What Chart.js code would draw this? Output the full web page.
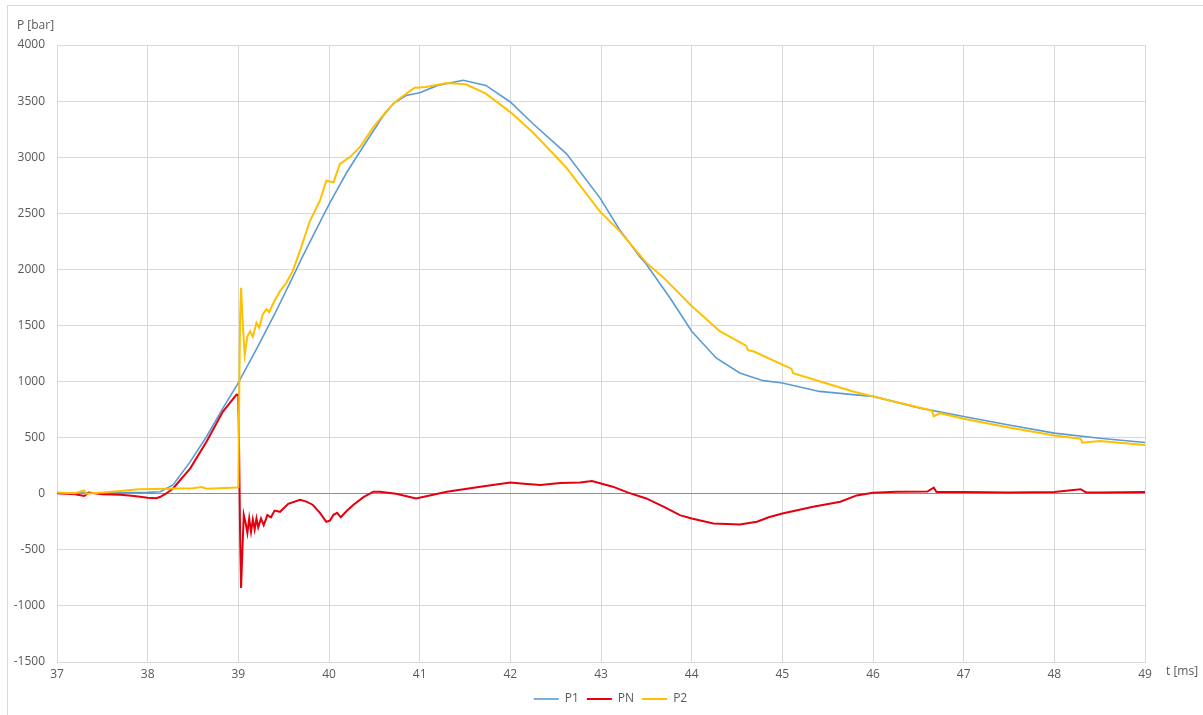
<!DOCTYPE html>
<html>
<head>
<meta charset="utf-8">
<script src="https://cdn.jsdelivr.net/npm/chart.js@4.4.0/dist/chart.umd.min.js"></script>
<style>
  html, body { margin: 0; padding: 0; background: #fff; overflow: hidden; }
  #frame { position: absolute; left: 7px; top: 5px; width: 1300px; height: 800px; border: 1px solid #d9d9d9; }
  #pressureChart { position: absolute; left: 0; top: 0; }
</style>
</head>
<body>
<div id="frame"></div>
<canvas id="pressureChart" width="1203" height="715"></canvas>
<script>
// time axis ticks (ms) and pressure ticks (bar)
const xTicks = [37, 38, 39, 40, 41, 42, 43, 44, 45, 46, 47, 48, 49];
const yTicks = [-1500, -1000, -500, 0, 500, 1000, 1500, 2000, 2500, 3000, 3500, 4000];

// P1
const p1Time = [37.0, 37.5, 38.0, 38.14, 38.28, 38.47, 38.65, 38.83, 38.99, 39.2, 39.4, 39.6, 39.7, 39.85,
  40.0, 40.2, 40.42, 40.6, 40.71, 40.85, 41.0, 41.2, 41.48, 41.73, 42.0, 42.25, 42.62, 42.99, 43.2, 43.43,
  43.5, 43.76, 44.0, 44.27, 44.53, 44.79, 45.0, 45.41, 45.78, 46.0, 46.52, 47.0, 47.5, 48.0, 48.5, 49.0];
const p1Values = [5, 8, 12, 18, 78, 286, 510, 763, 975, 1290, 1600, 1930, 2100, 2340,
  2580, 2870, 3149, 3370, 3477, 3550, 3575, 3640, 3685, 3640, 3492, 3298, 3030, 2635, 2360, 2110,
  2045, 1747, 1449, 1210, 1076, 1008, 987, 912, 883, 868, 763, 689, 612, 540, 495, 456];

// PN
const pnTime = [37.0, 37.2, 37.3, 37.35, 37.5, 37.7, 37.85, 38.0, 38.1, 38.14, 38.2, 38.28, 38.47, 38.65,
  38.83, 38.98, 39.0, 39.01, 39.02, 39.03, 39.045, 39.06, 39.08, 39.1, 39.12, 39.14, 39.16, 39.18, 39.2,
  39.22, 39.25, 39.28, 39.32, 39.36, 39.4, 39.46, 39.55, 39.68, 39.75, 39.82, 39.9, 39.97, 40.01, 40.05,
  40.09, 40.13, 40.2, 40.27, 40.38, 40.49, 40.56, 40.74, 40.96, 41.3, 41.67, 42.0, 42.15, 42.33, 42.55,
  42.77, 42.9, 43.13, 43.3, 43.5, 43.7, 43.87, 44.0, 44.24, 44.53, 44.72, 44.85, 45.0, 45.34, 45.64,
  45.82, 46.0, 46.26, 46.6, 46.67, 46.7, 47.0, 47.5, 48.0, 48.29, 48.35, 48.5, 49.0];
const pnValues = [5, -5, -20, 10, -5, -10, -20, -35, -40, -27, 0, 47, 226, 465,
  733, 883, 880, 300, -400, -841, -500, -188, -260, -350, -220, -340, -230, -320, -220,
  -300, -220, -280, -190, -210, -150, -161, -90, -54, -70, -98, -170, -250, -240, -188,
  -170, -210, -150, -98, -30, 18, 18, 0, -42, 18, 63, 101, 90, 78, 95,
  101, 113, 63, 10, -42, -120, -191, -221, -266, -274, -250, -210, -176, -116, -72,
  -15, 9, 18, 20, 55, 15, 15, 10, 15, 40, 12, 10, 15];

// P2
const p2Time = [37.0, 37.2, 37.3, 37.32, 37.5, 37.7, 37.9, 38.2, 38.5, 38.6, 38.65, 38.98, 39.0, 39.01,
  39.02, 39.03, 39.05, 39.07, 39.1, 39.13, 39.16, 39.2, 39.23, 39.27, 39.31, 39.34, 39.4, 39.46, 39.53,
  39.6, 39.68, 39.79, 39.9, 39.97, 40.05, 40.12, 40.23, 40.34, 40.49, 40.64, 40.75, 40.93, 40.95, 41.07,
  41.3, 41.51, 41.73, 42.0, 42.25, 42.62, 42.99, 43.2, 43.5, 43.69, 44.0, 44.31, 44.6, 44.62, 44.68,
  45.0, 45.1, 45.12, 45.41, 45.78, 46.0, 46.65, 46.67, 46.74, 47.0, 47.5, 48.0, 48.29, 48.31, 48.5, 49.0];
const p2Values = [10, 5, 30, 0, 10, 25, 40, 45, 48, 60, 45, 55, 60, 900,
  1600, 1836, 1500, 1240, 1400, 1449, 1400, 1523, 1480, 1600, 1645, 1620, 1720, 1807, 1880,
  1986, 2165, 2433, 2612, 2790, 2776, 2940, 3000, 3089, 3268, 3417, 3506, 3611, 3620, 3626,
  3661, 3650, 3566, 3402, 3220, 2905, 2515, 2345, 2060, 1926, 1673, 1449, 1320, 1280, 1270,
  1151, 1115, 1075, 1002, 912, 868, 740, 690, 718, 668, 590, 519, 490, 455, 470, 435];

const toPoints = (ts, vs) => ts.map((t, i) => ({x: t, y: vs[i]}));

const textColor = '#595959';
const gridColor = '#d9d9d9';
const fontFamily = '"Open Sans", sans-serif';

const axisCaptions = {
  id: 'axisCaptions',
  afterLayout(chart) {
    // legend in the original sits a bit right of the plot centre
    chart.legend.left += 38;
    chart.legend.right += 38;
  },
  afterDraw(chart) {
    const c = chart.ctx;
    c.save();
    c.fillStyle = textColor;
    c.font = '12px ' + fontFamily;
    c.textBaseline = 'middle';
    c.textAlign = 'left';
    c.fillText('P [bar]', 17, 26);
    c.fillText('t [ms]', 1166, 672);
    c.restore();
  }
};

const ctxPressure = document.getElementById('pressureChart').getContext('2d');
const pressureChart = new Chart(ctxPressure, {
  type: 'line',
  data: {
    datasets: [{
      label: 'P1',
      data: toPoints(p1Time, p1Values),
      borderColor: '#5b9bd5',
      backgroundColor: '#5b9bd5',
      borderWidth: 1.6,
      order: 3
    }, {
      label: 'PN',
      data: toPoints(pnTime, pnValues),
      borderColor: '#e3000f',
      backgroundColor: '#e3000f',
      borderWidth: 2,
      order: 2
    }, {
      label: 'P2',
      data: toPoints(p2Time, p2Values),
      borderColor: '#ffc000',
      backgroundColor: '#ffc000',
      borderWidth: 2,
      order: 1
    }]
  },
  options: {
    responsive: false,
    animation: false,
    events: [],
    elements: {
      point: { radius: 0 },
      line: { tension: 0, fill: false }
    },
    layout: { padding: { left: 0, top: 45, right: 58, bottom: 0 } },
    scales: {
      x: {
        type: 'linear',
        min: 37,
        max: 49,
        afterBuildTicks: (scale) => { scale.ticks = xTicks.map(v => ({value: v})); },
        afterFit: (scale) => { scale.height = 23; },
        grid: { color: gridColor, drawTicks: false },
        border: { color: gridColor },
        ticks: {
          color: textColor,
          font: { family: fontFamily, size: 12 },
          padding: 5,
          maxRotation: 0,
          callback: (v) => String(v)
        }
      },
      y: {
        min: -1500,
        max: 4000,
        afterBuildTicks: (scale) => { scale.ticks = yTicks.map(v => ({value: v})); },
        afterFit: (scale) => { scale.width = 57; },
        grid: {
          color: (c) => (c.tick && c.tick.value === 0 ? '#5b9bd5' : gridColor),
          drawTicks: false
        },
        border: { color: gridColor },
        ticks: {
          color: textColor,
          font: { family: fontFamily, size: 12 },
          padding: 12,
          callback: (v) => String(v)
        }
      }
    },
    plugins: {
      legend: {
        position: 'bottom',
        labels: {
          color: textColor,
          font: { family: fontFamily, size: 12 },
          usePointStyle: true,
          pointStyle: 'line',
          pointStyleWidth: 25,
          padding: 8,
          sort: (a, b) => a.datasetIndex - b.datasetIndex
        }
      },
      tooltip: { enabled: false }
    }
  },
  plugins: [axisCaptions]
});
</script>
</body>
</html>
